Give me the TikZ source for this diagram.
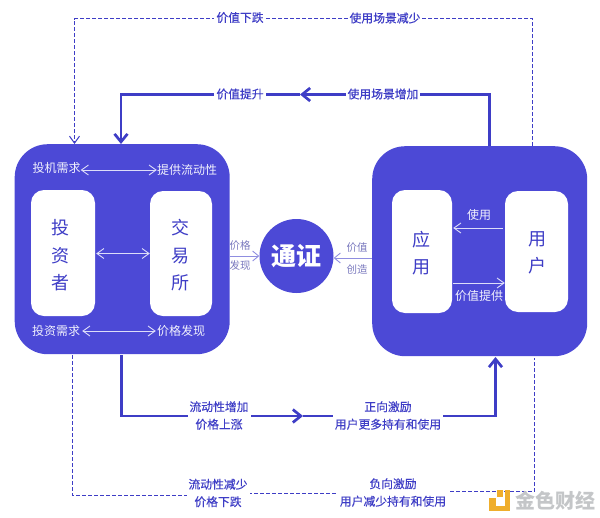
\documentclass[tikz,border=0pt]{standalone}
\usepackage{fontspec}
\setmainfont{Noto Sans CJK SC}
\newfontfamily\medcjk[FakeBold=0.35]{Noto Sans CJK SC}
\usetikzlibrary{arrows.meta}
\definecolor{boxblue}{HTML}{4C49D6}
\definecolor{lineblue}{HTML}{3E3DC6}
\definecolor{softline}{HTML}{8F8EE0}
\definecolor{paleline}{HTML}{DDDDF9}
\definecolor{wmgrey}{HTML}{C4C6C8}
\definecolor{wmgold}{HTML}{EFAE2C}
\tikzset{
  x=1pt,y=-1pt,
  outerbox/.style={fill=boxblue,draw=none,rounded corners=33pt},
  innerbox/.style={fill=white,draw=none,rounded corners=13pt,inner sep=0pt},
  boxtext/.style={text=lineblue,font=\fontsize{18}{27.5}\selectfont,align=center,inner sep=0pt},
  inlabel/.style={text=paleline!40!white,font=\fontsize{12}{14}\selectfont,inner sep=0pt},
  sidelabel/.style={text=softline!85!black,font=\fontsize{10.5}{12}\selectfont,inner sep=0pt},
  flowlabel/.style={fill=white,text=lineblue,font=\medcjk\fontsize{11.8}{17.5}\selectfont,align=center,inner sep=2pt},
  mainflow/.style={draw=lineblue,line width=2.7pt},
  thinflow/.style={draw=lineblue,line width=1pt,dash pattern=on 4pt off 2pt},
  bigtip/.style={-{Straight Barb[length=8pt,width=13pt,line width=2.7pt]}},
  opentip/.style={-{Straight Barb[length=7pt,width=10pt,line width=1pt]}},
  palearrow/.style={draw=paleline,line width=0.9pt,{Straight Barb[length=7pt,width=10pt]}-{Straight Barb[length=7pt,width=10pt]}},
  palesingle/.style={draw=paleline,line width=0.9pt,-{Straight Barb[length=7pt,width=10pt]}},
  softsingle/.style={draw=softline,line width=0.9pt,-{Straight Barb[length=6pt,width=10pt]}},
}
\begin{document}
\begin{tikzpicture}
\useasboundingbox (0,0) rectangle (600,517);
% boxes
\node[outerbox,minimum width=215pt,minimum height=210pt,anchor=north west] (left) at (14.5,144) {};
\node[outerbox,minimum width=215pt,minimum height=210pt,anchor=north west] (right) at (372,146) {};
\node[innerbox,minimum width=64pt,minimum height=126pt] (inv) at (63,253) {};
\node[innerbox,minimum width=62pt,minimum height=125pt] (exch) at (181,253.5) {};
\node[innerbox,minimum width=60pt,minimum height=123pt] (app) at (422,251.5) {};
\node[innerbox,minimum width=63pt,minimum height=121pt] (user) at (536.5,251.5) {};
\node[boxtext] (tinv) at (60,255.5) {投\\资\\者};
\node[boxtext] (texch) at (180,255.5) {交\\易\\所};
\node[boxtext] (tapp) at (421,253) {应\\用};
\node[boxtext] (tuser) at (537,253) {用\\户};
\node[circle,fill=boxblue,minimum size=74pt,inner sep=0pt,text=white,font=\bfseries\fontsize{25}{28}\selectfont] (coin) at (296.5,256) {通证};
% inner labels
\node[inlabel] (a1) at (56.5,168) {投机需求};
\node[inlabel] (a2) at (187,170) {提供流动性};
\node[inlabel] (a3) at (56,330.5) {投资需求};
\node[inlabel] (a4) at (181,331) {价格发现};
\draw[palearrow] (a1.east |- a2.west) -- (a2.west);
\draw[palearrow] ([xshift=2pt]a3.east |- a4.west) -- ([xshift=-1pt]a4.west);
\draw[palearrow] ([xshift=1pt]inv.east |- exch.west) -- (exch.west);
\node[inlabel] (b1) at (479,215) {使用};
\node[inlabel] (b2) at (479,295.5) {价值提供};
\draw[palesingle] ([xshift=-2pt,yshift=23.5pt]user.west) -- ([xshift=1pt,yshift=23.5pt]app.east);
\draw[palesingle] ([xshift=1pt,yshift=-31.5pt]app.east) -- ([yshift=-31.5pt]user.west);
% side labels and arrows
\node[sidelabel] (c1) at (240,245.5) {价格};
\node[sidelabel] (c2) at (240,266) {发现};
\node[sidelabel] (c3) at (357,248) {价值};
\node[sidelabel] (c4) at (357,269) {创造};
\draw[softsingle] (coin.west -| left.east) -- (coin.west);
\draw[softsingle] ([yshift=-2pt]coin.east -| right.west) -- ([yshift=-2pt]coin.east);
% flow coordinates
\coordinate (ltA) at (121,144);
\coordinate (ltB) at (74.5,144);
\coordinate (lbA) at (121.5,355);
\coordinate (lbB) at (72.5,355);
\coordinate (rtA) at (489.5,146);
\coordinate (rtB) at (532.5,146);
\coordinate (rbA) at (495.5,357);
\coordinate (rbB) at (534.5,358);
\coordinate (midT) at (300,94.5);
\coordinate (midB) at (303,416);
% solid flows
\draw[mainflow,bigtip] (rtA) -- (rtA |- midT) -- (midT);
\draw[mainflow,bigtip] (midT) -- (ltA |- midT) -- (ltA);
\draw[mainflow,bigtip] (lbA) -- (lbA |- midB) -- (midB);
\draw[mainflow,bigtip] (midB) -- (rbA |- midB) -- (rbA);
% dashed flows
\draw[thinflow,opentip] (rtB) -- (532.5,18.5) -- (74.5,18.5) -- (ltB);
\draw[thinflow] (lbB) -- (72.5,495.5) -- (218,495.5) -- (218,493.5) -- (393,493.5) -- (393,491.5) -- (534.5,491.5) -- (rbB);
% labels on flows
\node[flowlabel] (d1) at (240,17.5) {价值下跌};
\node[flowlabel] (d2) at (385,18) {使用场景减少};
\node[flowlabel] (d3) at (240,94) {价值提升};
\node[flowlabel] (d4) at (383,94) {使用场景增加};
\node[flowlabel] (d5) at (219,415.5) {流动性增加\\价格上涨};
\node[flowlabel] (d6) at (388,415.5) {正向激励\\用户更多持有和使用};
\node[flowlabel] (d7) at (218,493) {流动性减少\\价格下跌};
\node[flowlabel] (d8) at (393,492.5) {负向激励\\用户减少持有和使用};
% watermark
\fill[wmgold] (505,490) rectangle (510,511);
\fill[wmgold] (497,490) rectangle (503,497);
\fill[wmgold] (488.5,498) rectangle (495.5,505.5);
\fill[wmgold] (488.5,506) rectangle (510,511);
\node[text=wmgrey,font=\bfseries\fontsize{20}{21}\selectfont,inner sep=0pt] (wm) at (555,501) {金色财经};
\end{tikzpicture}
\end{document}
